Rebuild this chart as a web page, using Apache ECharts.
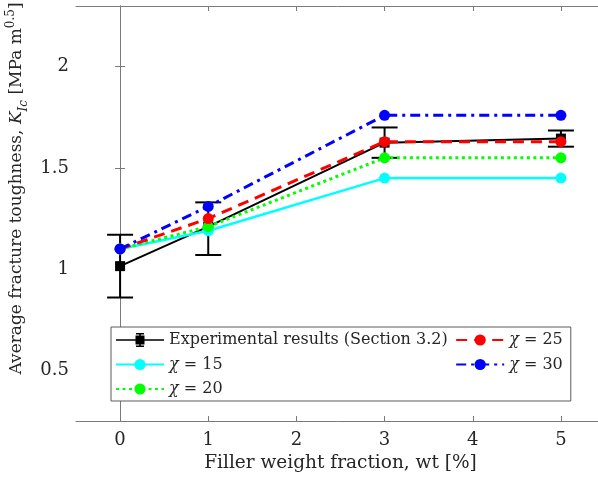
<!DOCTYPE html>
<html>
<head>
<meta charset="utf-8">
<script src="https://cdn.jsdelivr.net/npm/echarts@6/dist/echarts.min.js"></script>
<style>
  html, body { margin: 0; padding: 0; background: #fff; }
  #chart { width: 598px; height: 485px; }
</style>
</head>
<body>
<div id="chart"></div>
<script>
// filler weight fraction (wt %)
const wt = [0, 1, 3, 5];
// experimental fracture toughness and error bar limits
const expMean = [1.015, 1.21, 1.625, 1.645];
const expLow = [0.86, 1.07, 1.55, 1.605];
const expHigh = [1.17, 1.33, 1.70, 1.685];
// model predictions
const chi15 = [1.10, 1.19, 1.45, 1.45];
const chi20 = [1.10, 1.21, 1.55, 1.55];
const chi25 = [1.10, 1.25, 1.63, 1.63];
const chi30 = [1.10, 1.31, 1.76, 1.76];
const xTicks = [0, 1, 2, 3, 4, 5];
const yTicks = [0.5, 1, 1.5, 2];

const FONT = "DejaVu Serif";
const AXIS_COLOR = "#7a7a7a";
const TXT = "#262626";

const pairs = ys => wt.map((x, i) => [x, ys[i]]);
const errData = wt.map((x, i) => [x, expLow[i], expHigh[i]]);

// legend icon for the error-bar series (48 x 14 box)
const expIcon = "path://M0,6.2L48,6.2L48,7.8L0,7.8Z" +
  "M19.5,2.5L28.5,2.5L28.5,11.5L19.5,11.5Z" +
  "M23.2,0L24.8,0L24.8,14L23.2,14Z" +
  "M20,0L28,0L28,1.6L20,1.6Z" +
  "M20,12.4L28,12.4L28,14L20,14Z";

const chart = echarts.init(document.getElementById("chart"));

function lineSeries(name, data, color, type, width, z) {
  return {
    name: name,
    type: "line",
    data: pairs(data),
    symbol: "circle",
    symbolSize: 11,
    color: color,
    z: z,
    lineStyle: { color: color, width: width, type: type },
    itemStyle: { color: color },
    emphasis: { disabled: true },
    animation: false
  };
}

const expName = "Experimental results (Section 3.2)";

chart.setOption({
  animation: false,
  grid: { left: 76, top: 6, right: -7, bottom: 64, outerBoundsMode: "none" },
  legend: {
    orient: "vertical",
    left: 111,
    top: 327,
    height: 73,
    padding: [5, 8, 4, 4],
    itemWidth: 48,
    itemHeight: 14,
    itemGap: 8.5,
    symbolKeepAspect: false,
    borderColor: "#5a5a5a",
    borderWidth: 1,
    backgroundColor: "#fff",
    selectedMode: false,
    textStyle: {
      fontFamily: FONT, fontSize: 16, color: TXT, lineHeight: 14,
      rich: {
        i: { fontFamily: FONT, fontStyle: "italic", fontSize: 16, color: TXT }
      }
    },
    formatter: n => n.startsWith("chi") ? "{i|\u03c7} = " + n.slice(4) : n,
    data: [
      { name: expName, icon: expIcon },
      "chi 15", "chi 20", "chi 25", "chi 30"
    ]
  },
  xAxis: [{
    type: "value",
    min: -0.5,
    max: 5.5,
    name: "Filler weight fraction, wt [%]",
    nameLocation: "middle",
    nameGap: 33,
    nameTextStyle: { fontFamily: FONT, fontSize: 18.5, color: TXT },
    axisLine: { show: true, lineStyle: { color: AXIS_COLOR, width: 1 } },
    axisTick: { show: true, inside: true, length: 5, customValues: xTicks, lineStyle: { color: AXIS_COLOR } },
    axisLabel: { customValues: xTicks, margin: 10, fontFamily: FONT, fontSize: 18, color: TXT },
    splitLine: { show: false }
  }, {
    type: "value",
    position: "top",
    min: -0.5,
    max: 5.5,
    axisLine: { show: true, lineStyle: { color: AXIS_COLOR, width: 1 } },
    axisTick: { show: true, inside: true, length: 5, customValues: xTicks, lineStyle: { color: AXIS_COLOR } },
    axisLabel: { show: false },
    splitLine: { show: false }
  }],
  yAxis: [{
    type: "value",
    min: 0.25,
    max: 2.3,
    name: "Average fracture toughness, {i|K}{sub|Ic} [MPa m{sup|0.5}]",
    nameLocation: "middle",
    nameGap: 47,
    nameTextStyle: {
      fontFamily: FONT, fontSize: 17, color: TXT,
      padding: [0, 0, 0, 50],
      rich: {
        i: { fontFamily: FONT, fontSize: 17, fontStyle: "italic", color: TXT },
        sub: { fontFamily: FONT, fontSize: 12, fontStyle: "italic", color: TXT, verticalAlign: "bottom", padding: [0, 0, -4, 0] },
        sup: { fontFamily: FONT, fontSize: 12, color: TXT, verticalAlign: "top", padding: [-4, 0, 0, 0] }
      }
    },
    axisLine: { show: true, lineStyle: { color: AXIS_COLOR, width: 1 } },
    axisTick: { show: true, inside: true, length: 5, customValues: yTicks, lineStyle: { color: AXIS_COLOR } },
    axisLabel: { customValues: yTicks, margin: 7, fontFamily: FONT, fontSize: 18, color: TXT },
    splitLine: { show: false }
  }, {
    type: "value",
    position: "right",
    min: 0.25,
    max: 2.3,
    axisLine: { show: true, lineStyle: { color: AXIS_COLOR, width: 1 } },
    axisTick: { show: true, inside: true, length: 5, customValues: yTicks, lineStyle: { color: AXIS_COLOR } },
    axisLabel: { show: false },
    splitLine: { show: false }
  }],
  series: [
    {
      name: expName,
      type: "line",
      data: pairs(expMean),
      symbol: "rect",
      symbolSize: 10,
      color: "#000",
      z: 2,
      lineStyle: { color: "#000", width: 2 },
      itemStyle: { color: "#000" },
      emphasis: { disabled: true }
    },
    {
      name: expName,
      type: "custom",
      z: 2,
      data: errData,
      renderItem: function (params, api) {
        const x = api.value(0);
        const lo = api.coord([x, api.value(1)]);
        const hi = api.coord([x, api.value(2)]);
        const cap = 13;
        const st = { stroke: "#000", lineWidth: 2 };
        return {
          type: "group",
          children: [
            { type: "line", shape: { x1: lo[0], y1: lo[1], x2: hi[0], y2: hi[1] }, style: st },
            { type: "line", shape: { x1: lo[0] - cap, y1: lo[1], x2: lo[0] + cap, y2: lo[1] }, style: st },
            { type: "line", shape: { x1: hi[0] - cap, y1: hi[1], x2: hi[0] + cap, y2: hi[1] }, style: st }
          ]
        };
      }
    },
    lineSeries("chi 15", chi15, "#00ffff", "solid", 2.5, 3),
    lineSeries("chi 20", chi20, "#00ff00", [3, 3.5], 3, 4),
    lineSeries("chi 25", chi25, "#ff0000", [11, 7], 3, 5),
    lineSeries("chi 30", chi30, "#0000ff", [10, 5, 3, 5], 3, 6)
  ]
});
</script>
</body>
</html>
